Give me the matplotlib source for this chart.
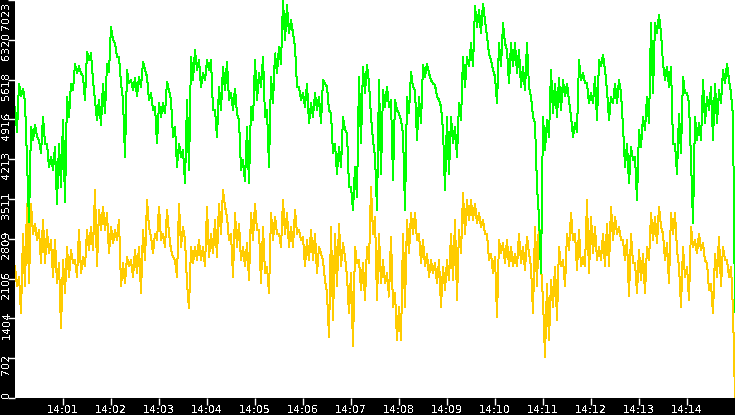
import matplotlib
matplotlib.use("Agg")
import matplotlib.pyplot as plt
import matplotlib.dates as mdates
import matplotlib.transforms as mtransforms
import pandas as pd
import numpy as np

plt.rcParams["text.antialiased"] = False

# ---- data (one value every 2.5 s from 14:00:00, last point at 14:15:00) ----
green = [
    5140, 4700, 5550, 5320, 5460, 5230, 4200, 3110, 4790, 4550, 4820, 4610, 4550, 4320, 4960, 4490,
    4490, 4080, 4260, 4020, 4430, 3430, 4490, 3730, 4900, 3460, 5320, 4960, 5550, 5430, 5900, 5730,
    5850, 5730, 5670, 5260, 6110, 5960, 6080, 5610, 5260, 4900, 5260, 4820, 5550, 5020, 5900, 5760,
    6550, 6320, 6260, 6020, 6020, 5550, 5260, 4260, 5790, 5550, 5610, 5430, 5640, 5320, 5670, 5490,
    5930, 5790, 5670, 5260, 5380, 5080, 5140, 4490, 5200, 4960, 5200, 5020, 5580, 5430, 5260, 4610,
    4790, 4080, 4490, 4260, 4380, 3790, 5260, 4020, 6020, 5610,
    6140, 5790, 5960, 5490, 5730, 5610, 5960, 5790, 5960, 5080, 5080, 4610, 5490, 5080, 5850, 5430,
    5930, 5260, 5380, 5080, 5460, 5020, 4900, 4020, 4200, 3820, 4790, 3790, 5140, 4900, 5960, 5260,
    5730, 5490, 6020, 4960, 5080, 4080, 5670, 5200, 6080, 5730, 6200, 5900, 7020, 6320, 6930, 6440,
    6670, 6440, 6200, 5490, 5490, 5260, 5380, 5140, 5550, 4850, 5200, 4960, 5380, 5080, 5320, 4850,
    5610, 5550, 5490, 5080, 5020, 4320, 4490, 3960, 4430, 4080, 4960, 4730, 4670, 3730, 3730, 3320,
    4080, 3550, 5670, 4490, 5850, 5380, 5880, 5550, 4960, 4550,
    4260, 3320, 5610, 3960, 5430, 5140, 5490, 5140, 5260, 3850, 5260, 5080, 5020, 4900, 4670, 3320,
    5320, 5020, 5760, 5490, 5430, 4550, 5320, 4850, 5880, 5670, 5900, 5730, 5610, 5550, 5520, 5320,
    5260, 5140, 4730, 3670, 4960, 3960, 4960, 4490, 4790, 4260, 5200, 4900, 6020, 5490, 6020, 5850,
    6260, 5850, 6910, 6550, 6850, 6440, 6960, 6670, 6380, 6080, 5960, 5790, 5670, 5200, 6260, 5850,
    6610, 6260, 6140, 5550, 6260, 5850, 6260, 5730, 6140, 5490, 5850, 5430, 6260, 5490, 5320, 4960,
    4850, 3730, 3200, 2200, 4960, 4380, 4900, 4610, 5790, 5020,
    5550, 4960, 5640, 5080, 5610, 5320, 5550, 5260, 4960, 4610, 4850, 4700, 5960, 5610, 5730, 5550,
    5550, 5200, 5380, 5200, 5670, 4900, 5960, 5850, 6050, 5790, 5430, 4900, 5320, 5200, 5550, 5200,
    5610, 5380, 4790, 4080, 4490, 3790, 4430, 4200, 4260, 3490, 4730, 4430, 4960, 4730, 5320, 4850,
    6610, 5380, 6610, 6440, 6760, 6440, 5900, 5610, 5850, 5490, 5850, 4490, 4490, 3960, 5020, 4320,
    5670, 5380, 5380, 5200, 4200, 3080, 4960, 4550, 4850, 4550, 5610, 4850, 5320, 5080, 5490, 4550,
    5550, 4850, 5430, 5200, 5790, 5550, 5900, 5610, 5380, 4960,
    1520,
]

yellow = [
    2320, 1970, 2140, 1490, 2900, 1970, 3430, 2020, 3430, 2900, 3080, 2790, 2960, 2380, 3140, 2380,
    2960, 2550, 2790, 2140, 2790, 2020, 2380, 1230, 2430, 1850, 2670, 2140, 2610, 2380, 2430, 2140,
    2960, 2200, 2490, 2320, 2960, 2610, 3020, 2610, 3670, 2320, 3320, 2960, 3380, 2960, 3260, 2550,
    3020, 2730, 2960, 2790, 3140, 1970, 2380, 2020, 2490, 2320, 2430, 2140, 2610, 2200, 2670, 1850,
    2960, 2430, 3490, 3020, 2850, 2550, 2900, 2790, 3380, 2790, 2900, 2670, 3320, 2900, 2610, 2490,
    2430, 2140, 3430, 2670, 3020, 2790, 2020, 1580, 2670, 2380,
    2670, 2430, 2790, 2430, 2670, 2320, 3380, 2490, 2900, 2550, 3140, 2490, 3430, 2900, 3670, 3380,
    3200, 2790, 2900, 2140, 3260, 2670, 3080, 2430, 2670, 2320, 2730, 2080, 3260, 2790, 3430, 2960,
    2960, 2020, 3020, 2200, 2320, 1850, 3260, 2790, 3200, 2900, 2900, 2670, 3490, 2900, 3260, 2670,
    3020, 2670, 3320, 2900, 2960, 2790, 2850, 2320, 2790, 2430, 2960, 2430, 2900, 2200, 2670, 2550,
    2430, 2080, 1850, 1080, 3020, 1380, 2900, 1970, 3080, 2320, 2730, 2490, 2140, 1490, 2200, 910,
    2670, 2380, 2430, 1910, 2380, 1730, 2670, 2380, 3730, 2900,
    3200, 1730, 2900, 2020, 2430, 2020, 2200, 1790, 2850, 1610, 1850, 1020, 1610, 1020, 2900, 1610,
    3140, 2550, 3260, 2900, 3260, 2790, 2900, 2380, 2790, 2320, 2550, 2140, 2430, 2200, 2380, 2020,
    2430, 1610, 2320, 1910, 2430, 2080, 2900, 2080, 3140, 1730, 2960, 2550, 3610, 2900, 3490, 3140,
    3490, 3140, 3430, 3080, 3260, 3020, 3140, 2900, 2900, 2430, 2550, 2200, 2490, 1430, 2790, 2550,
    2730, 2380, 2790, 2320, 2670, 2320, 2550, 2320, 2900, 2380, 2670, 2260, 2850, 2550, 2320, 1490,
    3020, 1970, 3200, 2320, 1730, 730, 2020, 1020, 2080, 1610,
    2320, 1380, 2670, 2320, 2430, 1970, 2900, 2610, 3260, 2790, 2900, 2260, 2960, 2320, 2490, 2320,
    3490, 2200, 3200, 2550, 3020, 2430, 2670, 2430, 2900, 2320, 3080, 2320, 3380, 2790, 3200, 2900,
    3020, 2790, 2790, 2430, 2790, 1790, 2900, 2380, 2380, 1850, 2610, 2080, 2550, 1850, 2670, 2430,
    3260, 2790, 3200, 2730, 3380, 3020, 2900, 2430, 2730, 2020, 3260, 2900, 3260, 2610, 2320, 1610,
    2670, 2140, 2320, 1730, 3020, 2670, 2790, 2550, 2900, 2610, 2730, 2430, 2380, 1910, 2020, 1490,
    2550, 2140, 2850, 1970, 2670, 2430, 2430, 2140, 2320, 1550,
    0,
]

y_max = 7023
y_tick_values = [0, 702, 1404, 2106, 2809, 3511, 4213, 4916, 5618, 6320, 7023]
y_tick_labels = ["0", "702", "1404", "2106", "2809", "3511", "4213", "4916", "5618", "6320", "7023"]

times = list(pd.date_range("2024-01-01 14:00:00", periods=len(green) - 1, freq="2500ms"))
times.append(pd.Timestamp("2024-01-01 14:15:00"))
times = pd.DatetimeIndex(times)

# ---- figure ----
W, H = 735, 415
fig = plt.figure(figsize=(W / 100, H / 100), dpi=100, facecolor="black")
ax = fig.add_axes([15 / W, 17 / H, 720 / W, 398 / H], facecolor="white")

ax.plot(times, yellow, color="#FFCC00", lw=0.72, antialiased=False)
ax.plot(times, green, color="#00FF00", lw=0.72, antialiased=False)

ax.set_xlim(pd.Timestamp("2024-01-01 14:00:00"), pd.Timestamp("2024-01-01 14:15:00"))
ax.set_ylim(0, y_max)

for s in ax.spines.values():
    s.set_visible(False)

ax.xaxis.set_major_locator(mdates.MinuteLocator(byminute=range(1, 15)))
ax.xaxis.set_major_formatter(mdates.DateFormatter("%H:%M"))
ax.tick_params(axis="x", colors="white", length=5, width=1, pad=0.2, labelsize=8, direction="out")

# y ticks: marks via the axis, labels placed as rotated texts just below each tick
ax.set_yticks(y_tick_values)
ax.tick_params(axis="y", colors="white", length=5, width=1, labelleft=False, direction="out")
ytrans = ax.get_yaxis_transform()
label_x = -8.5 / 720
for i, (val, txt) in enumerate(zip(y_tick_values, y_tick_labels)):
    if i == 0:
        va, dy = "bottom", 0
    elif i == len(y_tick_values) - 1:
        va, dy = "top", -2
    else:
        va, dy = "center", -6
    tr = ytrans + mtransforms.ScaledTranslation(0, dy / 72 * 0.72, fig.dpi_scale_trans)
    ax.text(label_x, val, txt, transform=tr, rotation=90, color="white", fontsize=8,
            ha="center", va=va, clip_on=False)

fig.savefig("out.png", dpi=100, facecolor="black")
